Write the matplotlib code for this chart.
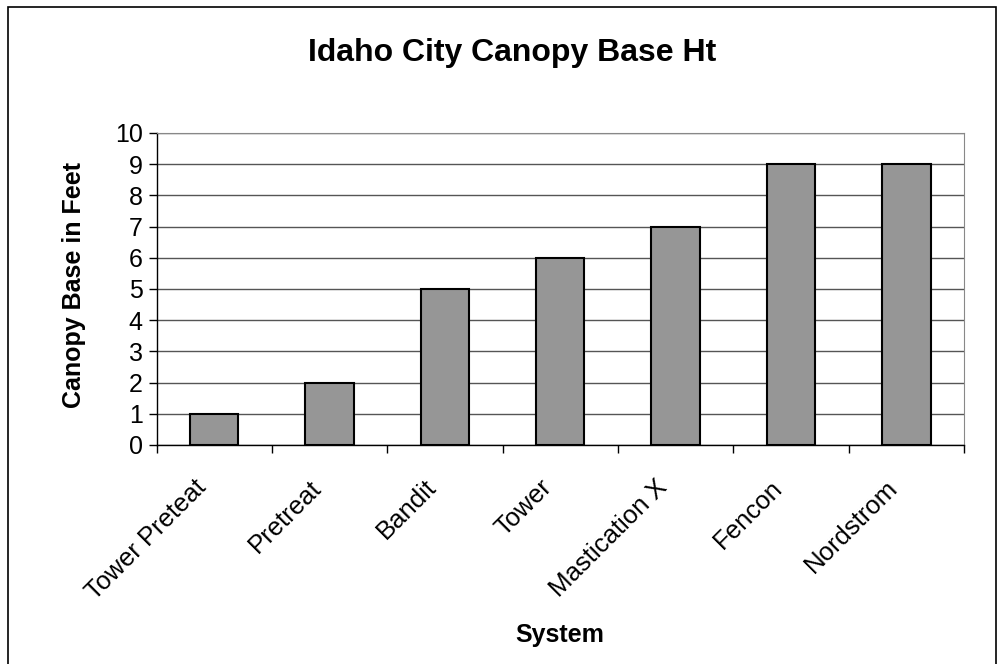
import matplotlib
matplotlib.use("Agg")
import matplotlib.pyplot as plt
import matplotlib.transforms as mtransforms
from matplotlib.patches import Rectangle

systems = ["Tower Preteat", "Pretreat", "Bandit", "Tower",
           "Mastication X", "Fencon", "Nordstrom"]
canopy_base = [1, 2, 5, 6, 7, 9, 9]
y_ticks = [0, 1, 2, 3, 4, 5, 6, 7, 8, 9, 10]


def main():
    plt.rcParams['font.family'] = ['Liberation Sans', 'DejaVu Sans']
    fig = plt.figure(figsize=(10.03, 6.64), dpi=100)
    ax = fig.add_axes([156.5 / 1003, 1 - 445 / 664, (964 - 156.5) / 1003,
                       (445 - 133) / 664])

    # outer frame of the chart, bottom edge falls outside the picture
    fig.patches.append(Rectangle((8 / 1003, -10 / 664), 988 / 1003,
                                 667 / 664, transform=fig.transFigure,
                                 fill=False, edgecolor="black",
                                 linewidth=1.2))

    x = list(range(len(systems)))
    ax.bar(x, canopy_base, width=0.42, color="#969696",
           edgecolor="black", linewidth=1.5, zorder=3)

    ax.set_xlim(-0.5, len(systems) - 0.5)
    ax.set_ylim(0, 10)
    ax.set_yticks(y_ticks)
    ax.set_yticklabels([str(v) for v in y_ticks], fontsize=18)
    ax.yaxis.grid(True, color="#555555", linewidth=1.0, zorder=0)

    ax.set_xticks(x)
    ax.set_xticklabels(systems, rotation=45, ha="right", va="center",
                       rotation_mode="anchor", fontsize=18.5)
    ax.tick_params(axis="x", length=0, pad=28)
    # nudge the slanted labels a little to the left, like the original
    shift = mtransforms.ScaledTranslation(-12 / 100, 0, fig.dpi_scale_trans)
    for lab in ax.get_xticklabels():
        lab.set_transform(lab.get_transform() + shift)
    ax.set_xticks([i - 0.5 for i in range(len(systems) + 1)], minor=True)
    ax.tick_params(axis="x", which="minor", length=6, width=1, color="black")
    ax.tick_params(axis="y", length=6, width=1, pad=4)

    for side in ["top", "right"]:
        ax.spines[side].set_color("#888888")
    for side in ["left", "bottom"]:
        ax.spines[side].set_color("black")
        ax.spines[side].set_linewidth(1.0)

    fig.text(74 / 1003, 1 - 285 / 664, "Canopy Base in Feet", rotation=90,
             ha="center", va="center", fontsize=18, fontweight="bold")
    fig.text(560 / 1003, 1 - 642 / 664, "System", ha="center",
             va="baseline", fontsize=18, fontweight="bold")
    fig.text(512 / 1003, 1 - 61 / 664, "Idaho City Canopy Base Ht",
             ha="center", va="baseline", fontsize=23, fontweight="bold")

    fig.savefig("out.png", dpi=100)
    plt.close(fig)


if __name__ == "__main__":
    main()
